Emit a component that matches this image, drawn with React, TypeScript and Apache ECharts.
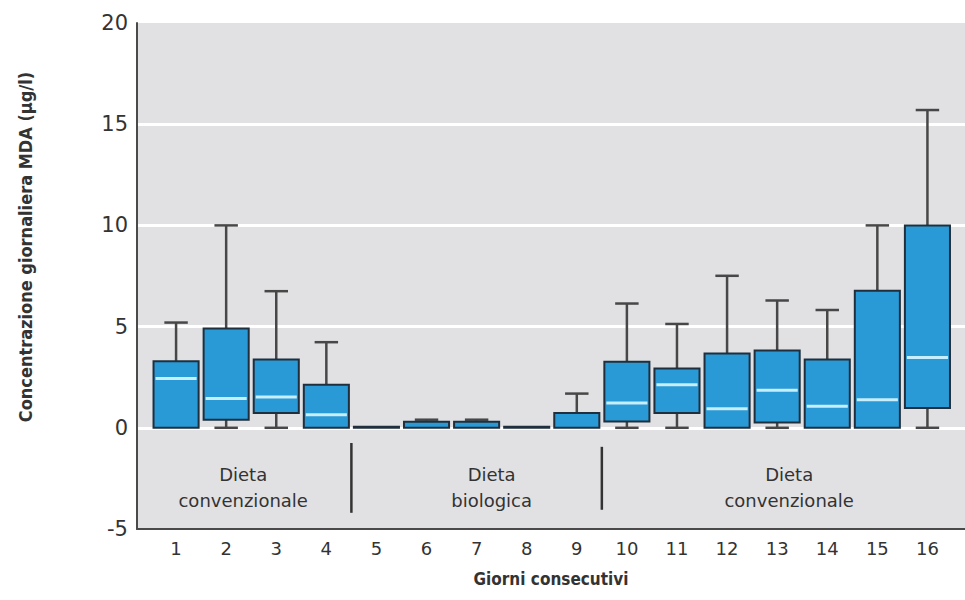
import React, { useEffect, useRef } from "react";
import * as echarts from "echarts";

const days = [1, 2, 3, 4, 5, 6, 7, 8, 9, 10, 11, 12, 13, 14, 15, 16];
const mins = [0, 0, 0, 0, 0, 0, 0, 0, 0, 0, 0, 0, 0, 0, 0, 0];
const q1s = [0, 0.4, 0.73, 0, 0, 0, 0, 0, 0, 0.31, 0.73, 0, 0.26, 0, 0, 0.98];
const medians = [2.43, 1.45, 1.52, 0.65, 0, 0, 0, 0, 0, 1.22, 2.13, 0.94, 1.85, 1.06, 1.39, 3.47];
const q3s = [3.29, 4.9, 3.37, 2.13, 0.05, 0.3, 0.3, 0.05, 0.73, 3.26, 2.93, 3.67, 3.82, 3.37, 6.77, 10.0];
const maxs = [5.2, 10.0, 6.75, 4.23, 0.05, 0.4, 0.4, 0.05, 1.69, 6.14, 5.13, 7.51, 6.29, 5.82, 10.0, 15.7];

const groupLabels = ["Dieta\nconvenzionale", "Dieta\nbiologica", "Dieta\nconvenzionale"];
const groupCenters = [2.34, 7.3, 13.24];
const groupTextY = -2.95;
const dividerX = [4.5, 9.5];
const dividerTop = [-0.75, -0.94];
const dividerBottom = [-4.2, -4.05];

const xTitle = "Giorni consecutivi";
const yTitle = "Concentrazione giornaliera MDA (µg/l)";

const FONT = "'DejaVu Sans', sans-serif";
const BOLD_FONT = "'DejaVu Sans Condensed', 'DejaVu Sans', sans-serif";

export default function App() {
  const ref = useRef<HTMLDivElement>(null);

  useEffect(() => {
    if (!ref.current) return;
    const chart = echarts.init(ref.current, null, { renderer: "svg" });

    const boxData = days.map((d, i) => [d, mins[i], q1s[i], medians[i], q3s[i], maxs[i]]);
    const labelData = groupCenters.map((c) => [c, groupTextY]);
    const dividerData = dividerX.map((x, i) => [x, dividerTop[i], dividerBottom[i]]);

    const option: any = {
      animation: false,
      grid: {
        left: 137,
        right: 0,
        top: 23,
        bottom: 71,
        show: true,
        backgroundColor: "#e1e1e4",
        borderWidth: 0,
      },
      xAxis: {
        type: "value",
        min: 0.22,
        max: 16.75,
        axisLine: { show: true, onZero: false, lineStyle: { color: "#4a4a4a", width: 2 } },
        axisTick: { show: false },
        splitLine: { show: false },
        axisLabel: {
          customValues: days,
          fontSize: 18,
          color: "#333",
          margin: 10,
          fontFamily: FONT,
        },
        name: xTitle,
        nameLocation: "middle",
        nameGap: 41,
        nameTextStyle: { fontSize: 17, fontWeight: "bold", color: "#333", fontFamily: BOLD_FONT },
      },
      yAxis: {
        type: "value",
        min: -5,
        max: 20,
        interval: 5,
        axisLine: { show: true, onZero: false, lineStyle: { color: "#4a4a4a", width: 2 } },
        axisTick: { show: false },
        splitLine: { show: true, showMaxLine: false, lineStyle: { color: "#ffffff", width: 3 } },
        axisLabel: { fontSize: 21, color: "#333", margin: 9, fontFamily: FONT },
      },
      graphic: [
        {
          type: "text",
          x: 25,
          y: 247,
          rotation: Math.PI / 2,
          style: {
            text: yTitle,
            align: "center",
            verticalAlign: "middle",
            fontSize: 18,
            fontWeight: "bold",
            fontFamily: BOLD_FONT,
            fill: "#333",
          },
        },
      ],
      series: [
        {
          type: "custom",
          name: "boxes",
          data: boxData,
          encode: { x: 0, y: [1, 2, 3, 4, 5] },
          renderItem: (params: any, api: any) => {
            const x = api.value(0);
            const mn = api.value(1);
            const q1 = api.value(2);
            const md = api.value(3);
            const q3 = api.value(4);
            const mx = api.value(5);
            const bw = api.size([1, 0])[0] * 0.9;
            const capW = bw * 0.52;
            const cx = api.coord([x, 0])[0];
            const y = (v: number) => api.coord([x, v])[1];
            const wStyle = { stroke: "#474747", lineWidth: 2.5 };
            const children: any[] = [];
            if (mx > q3) {
              children.push({ type: "line", shape: { x1: cx, y1: y(q3), x2: cx, y2: y(mx) }, style: wStyle });
              children.push({ type: "line", shape: { x1: cx - capW / 2, y1: y(mx), x2: cx + capW / 2, y2: y(mx) }, style: wStyle });
            }
            if (mn < q1) {
              children.push({ type: "line", shape: { x1: cx, y1: y(q1), x2: cx, y2: y(mn) }, style: wStyle });
              children.push({ type: "line", shape: { x1: cx - capW / 2, y1: y(mn), x2: cx + capW / 2, y2: y(mn) }, style: wStyle });
            }
            children.push({
              type: "rect",
              shape: { x: cx - bw / 2, y: y(q3), width: bw, height: y(q1) - y(q3) },
              style: { fill: "#2a9ad6", stroke: "#1f2f3d", lineWidth: 2 },
            });
            if (md > q1 && md < q3) {
              children.push({
                type: "line",
                shape: { x1: cx - bw / 2 + 2, y1: y(md), x2: cx + bw / 2 - 2, y2: y(md) },
                style: { stroke: "#c6eefc", lineWidth: 3 },
              });
            }
            return { type: "group", children };
          },
        },
        {
          type: "custom",
          name: "dividers",
          data: dividerData,
          encode: { x: 0, y: [1, 2] },
          renderItem: (params: any, api: any) => {
            const p1 = api.coord([api.value(0), api.value(1)]);
            const p2 = api.coord([api.value(0), api.value(2)]);
            return {
              type: "line",
              shape: { x1: p1[0], y1: p1[1], x2: p2[0], y2: p2[1] },
              style: { stroke: "#333", lineWidth: 2.5 },
            };
          },
        },
        {
          type: "custom",
          name: "groups",
          data: labelData,
          encode: { x: 0, y: 1 },
          renderItem: (params: any, api: any) => {
            const p = api.coord([api.value(0), api.value(1)]);
            return {
              type: "text",
              x: p[0],
              y: p[1],
              style: {
                text: groupLabels[params.dataIndex],
                align: "center",
                verticalAlign: "middle",
                fontSize: 18,
                lineHeight: 26,
                fontFamily: FONT,
                fill: "#333",
              },
            };
          },
        },
      ],
    };

    chart.setOption(option);
    return () => chart.dispose();
  }, []);

  return (
    <div
      ref={ref}
      style={{ position: "absolute", left: 0, top: 0, width: 965, height: 600, background: "#fff" }}
    />
  );
}
